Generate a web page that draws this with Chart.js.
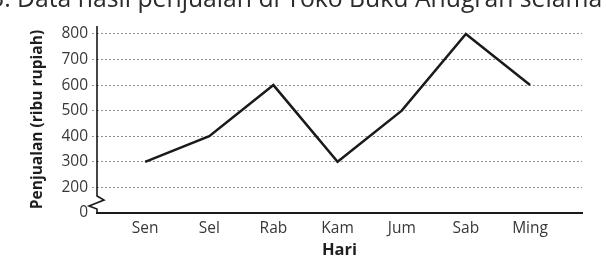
<!DOCTYPE html>
<html lang="id">
<head>
    <meta charset="UTF-8">
    <title>Data hasil penjualan</title>
    <script src="https://cdn.jsdelivr.net/npm/chart.js"></script>
    <style>
        body { margin: 0; background: #fff; overflow: hidden; }
        #wrap { position: relative; width: 606px; height: 272px; }
        #cut {
            position: absolute; left: -10px; top: -19px; white-space: nowrap;
            font-family: 'Open Sans', sans-serif; font-size: 24.75px; color: #2b2b2b;
        }
        canvas { position: absolute; left: 0; top: 0; }
    </style>
</head>
<body>
<div id="wrap">
    <canvas id="salesChart" width="606" height="272"></canvas>
    <div id="cut">3. Data hasil penjualan di Toko Buku Anugrah selama</div>
</div>
<script>
    const days = ['Sen', 'Sel', 'Rab', 'Kam', 'Jum', 'Sab', 'Ming'];
    const sales = [300, 400, 600, 300, 500, 800, 600];
    // axis is broken between 0 and 200, so "0" sits where 100 would be
    const yTickValues = [100, 200, 300, 400, 500, 600, 700, 800];
    const yTickLabels = ['0', '200', '300', '400', '500', '600', '700', '800'];

    const font = 'Open Sans';

    // y axis line drawn by hand so the break mark can go in
    const brokenAxis = {
        id: 'brokenAxis',
        afterDraw(chart) {
            const ctx = chart.ctx;
            const y = chart.scales.y;
            const x0 = chart.chartArea.left;
            const bottom = y.getPixelForValue(100);
            const top = chart.chartArea.top;
            ctx.save();
            ctx.strokeStyle = '#1a1a1a';
            ctx.lineWidth = 1.6;
            ctx.beginPath();
            ctx.moveTo(x0, top);
            ctx.lineTo(x0, bottom - 17);
            ctx.lineTo(x0 + 7, bottom - 13);
            ctx.lineTo(x0 - 8, bottom - 7);
            ctx.lineTo(x0, bottom - 4);
            ctx.lineTo(x0, bottom + 1);
            ctx.stroke();
            ctx.restore();
        }
    };

    new Chart(document.getElementById('salesChart'), {
        type: 'line',
        data: {
            datasets: [{
                data: sales.map((v, i) => ({ x: i, y: v })),
                borderColor: '#1a1a1a',
                borderWidth: 2.5,
                pointRadius: 0,
                tension: 0,
                fill: false
            }]
        },
        options: {
            responsive: false,
            animation: false,
            layout: { padding: { left: 28, right: 24, top: 26, bottom: 12 } },
            plugins: { legend: { display: false }, tooltip: { enabled: false } },
            scales: {
                x: {
                    type: 'linear',
                    min: -0.75,
                    max: 6.81,
                    afterFit: s => { s.height = 47; },
                    afterBuildTicks: s => { s.ticks = days.map((d, i) => ({ value: i })); },
                    ticks: {
                        autoSkip: false,
                        maxRotation: 0,
                        padding: 6,
                        color: '#383838',
                        font: { family: font, size: 15.5 },
                        callback: v => days[v]
                    },
                    grid: { display: false, drawTicks: false },
                    border: { color: '#1a1a1a', width: 2 },
                    title: {
                        display: true, text: 'Hari', color: '#1e1e1e',
                        padding: 0,
                        font: { family: font, size: 16.5, weight: 'bold' }
                    }
                },
                y: {
                    min: 100,
                    max: 831,
                    afterFit: s => { s.width = 69; },
                    afterBuildTicks: s => { s.ticks = yTickValues.map(v => ({ value: v })); },
                    ticks: {
                        padding: 4,
                        color: '#383838',
                        font: { family: font, size: 15.5 },
                        callback: v => yTickLabels[yTickValues.indexOf(v)]
                    },
                    grid: {
                        color: c => c.tick && c.tick.value === 100 ? 'rgba(0,0,0,0)' : '#8f8f8f',
                        lineWidth: 1,
                        tickLength: 5,
                        tickBorderDash: [2, 2]
                    },
                    border: { display: false, dash: [2, 2] },
                    title: {
                        display: true, text: 'Penjualan (ribu rupiah)', color: '#1e1e1e',
                        padding: 0,
                        font: { family: font, size: 15.5, weight: 'bold' }
                    }
                }
            }
        },
        plugins: [brokenAxis]
    });
</script>
</body>
</html>
